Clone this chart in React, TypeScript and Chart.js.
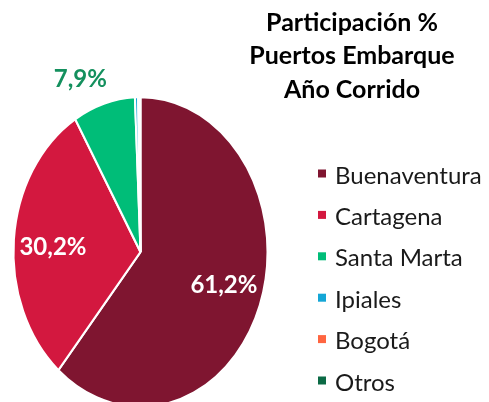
import React, { useEffect, useRef } from "react";
import { Chart, registerables } from "chart.js";

Chart.register(...registerables);

const categories = ["Buenaventura", "Cartagena", "Santa Marta", "Ipiales", "Bogotá", "Otros"];
const shares = [61.2, 30.2, 7.9, 0.4, 0.2, 0.1];
const valueLabels = ["61,2%", "30,2%", "7,9%", "", "", ""];
const colors = ["#7F1530", "#D3183F", "#00BD78", "#14A6D6", "#FF6540", "#0B6A45"];
const titleLines = ["Participación %", "Puertos Embarque", "Año Corrido"];

const STRETCH = 155 / 127;
const FONT = "Lato, 'Open Sans', sans-serif";

const ellipsePlugin = {
  id: "ellipse",
  beforeDatasetsDraw(chart: any) {
    const arc = chart.getDatasetMeta(0).data[0];
    const ctx = chart.ctx;
    ctx.save();
    ctx.translate(arc.x, arc.y);
    ctx.scale(1, STRETCH);
    ctx.translate(-arc.x, -arc.y);
  },
  afterDatasetsDraw(chart: any) {
    const ctx = chart.ctx;
    ctx.restore();
    const meta = chart.getDatasetMeta(0);
    ctx.save();
    ctx.textAlign = "center";
    ctx.textBaseline = "middle";
    meta.data.forEach((arc: any, i: number) => {
      const text = valueLabels[i];
      if (!text) return;
      const outside = i === 2;
      const mid = (arc.startAngle + arc.endAngle) / 2 - (outside ? 0.11 : 0.04);
      const r = arc.outerRadius * (outside ? 1.21 : 0.69);
      const lx = arc.x + Math.cos(mid) * r;
      const ly = arc.y + Math.sin(mid) * r * STRETCH;
      ctx.font = `bold 24px ${FONT}`;
      ctx.fillStyle = outside ? "#14905E" : "#FFFFFF";
      ctx.fillText(text, lx, ly);
    });
    ctx.restore();
  },
};

const sidePlugin = {
  id: "side",
  afterDraw(chart: any) {
    const ctx = chart.ctx;
    ctx.save();
    ctx.textAlign = "center";
    ctx.textBaseline = "alphabetic";
    ctx.fillStyle = "#000000";
    ctx.font = `bold 25px ${FONT}`;
    titleLines.forEach((line, i) => {
      ctx.fillText(line, 352, 31 + i * 33.3);
    });
    ctx.textAlign = "left";
    ctx.font = `24px ${FONT}`;
    categories.forEach((c, i) => {
      const base = 183.5 + i * 41.4;
      ctx.fillStyle = colors[i];
      ctx.fillRect(318, base - 14, 8, 8);
      ctx.fillStyle = "#1A1A1A";
      ctx.fillText(c, 335, base);
    });
    ctx.restore();
  },
};

export default function App() {
  const ref = useRef<HTMLCanvasElement>(null);
  useEffect(() => {
    if (!ref.current) return;
    const chart = new Chart(ref.current, {
      type: "pie",
      data: {
        labels: categories,
        datasets: [
          {
            data: shares,
            backgroundColor: colors,
            borderColor: "#FFFFFF",
            borderWidth: 2,
            clip: false as any,
          },
        ],
      },
      options: {
        responsive: false,
        animation: false,
        events: [],
        radius: 127,
        layout: { padding: { left: 13, right: 221, top: 125, bottom: 23 } },
        plugins: {
          legend: { display: false },
          title: { display: false },
          tooltip: { enabled: false },
        },
      } as any,
      plugins: [ellipsePlugin, sidePlugin],
    });
    return () => chart.destroy();
  }, []);
  return (
    <div style={{ position: "fixed", left: 0, top: 0, width: 489, height: 402, background: "#fff" }}>
      <canvas ref={ref} width={489} height={402} style={{ width: 489, height: 402, display: "block" }} />
    </div>
  );
}
